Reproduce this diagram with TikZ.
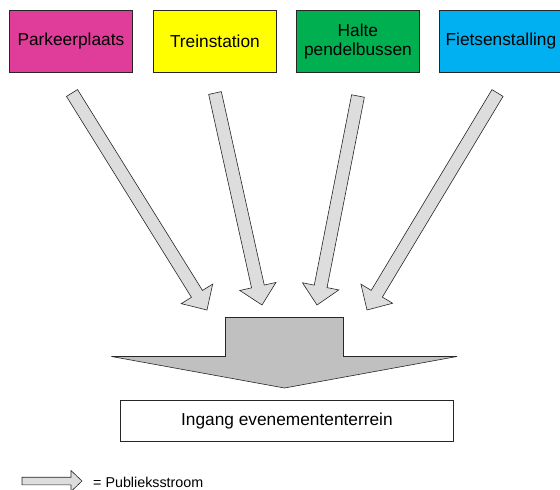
\documentclass[tikz,border=0pt]{standalone}
\usepackage{fontspec}
\setmainfont{Liberation Sans}
\usetikzlibrary{calc}

\definecolor{parkpink}{HTML}{E03C9A}
\definecolor{trainyellow}{HTML}{FFFF00}
\definecolor{busgreen}{HTML}{00B050}
\definecolor{bikeblue}{HTML}{00B0F0}
\definecolor{flowgrey}{HTML}{DDDDDD}
\definecolor{gategrey}{HTML}{C0C0C0}

\tikzset{
  site/.style={draw=black!85, line width=0.8pt, minimum width=123pt,
    minimum height=62pt, inner sep=0pt, align=center, anchor=north west,
    font=\fontsize{17.3}{19}\selectfont},
  flow/.style={draw=black!85, line width=0.6pt, fill=flowgrey, line join=miter},
  gate/.style={draw=black!85, line width=0.6pt, fill=gategrey},
  entrance/.style={draw=black!85, line width=0.8pt, minimum width=333pt,
    minimum height=41pt, inner sep=0pt, anchor=north west,
    font=\fontsize{17.3}{19}\selectfont},
}

% block arrow: tail, tip, shaft half width, head half width, head length
\newcommand\flowarrow[5]{%
  \path ($(#2)!#5!(#1)$) coordinate (neck);
  \draw[flow] ($(#1)!#3!90:(#2)$) -- ($(neck)!#3!90:(#2)$)
    -- ($(neck)!#4!90:(#2)$) -- (#2) -- ($(neck)!#4!-90:(#2)$)
    -- ($(neck)!#3!-90:(#2)$) -- ($(#1)!#3!-90:(#2)$) -- cycle;}

\begin{document}
\begin{tikzpicture}[x=1pt, y=-1pt]
  \useasboundingbox (0,0) rectangle (560,490);

  % origins of the visitor flows
  \node[site, fill=parkpink]    (park)  at (9,10)   {Parkeerplaats};
  \node[site, fill=trainyellow] (train) at (153,10) {Treinstation};
  \node[site, fill=busgreen]    (bus)   at (296,10) {Halte\\pendelbussen};
  \node[site, fill=bikeblue]    (bike)  at (439,10) {Fietsenstalling};

  % flows towards the entrance
  \coordinate (t1) at (72,93);    \coordinate (h1) at (207,310);
  \coordinate (t2) at (215,93);   \coordinate (h2) at (262,305);
  \coordinate (t3) at (358,96);   \coordinate (h3) at (317,305);
  \coordinate (t4) at (497.5,93); \coordinate (h4) at (367,310);
  \flowarrow{t1}{h1}{6.5pt}{18.5pt}{19pt}
  \flowarrow{t2}{h2}{6.5pt}{18.5pt}{19pt}
  \flowarrow{t3}{h3}{6.5pt}{18.5pt}{19pt}
  \flowarrow{t4}{h4}{6.5pt}{18.5pt}{19pt}

  % merged flow
  \draw[gate] (225.5,317.5) -- (343.5,317.5) -- (343.5,356.5) -- (457,356.5)
    -- (284.5,388) -- (111.5,356.5) -- (225.5,356.5) -- cycle;

  \node[entrance] (gate) at (120,400) {Ingang evenemententerrein};

  % legend
  \coordinate (lt) at (22,481); \coordinate (lh) at (82,481);
  \flowarrow{lt}{lh}{3.8pt}{10.5pt}{11pt}
  \node[anchor=west, inner sep=0pt, font=\fontsize{14.3}{16}\selectfont]
    (legend) at (93,482) {= Publieksstroom};
\end{tikzpicture}
\end{document}
